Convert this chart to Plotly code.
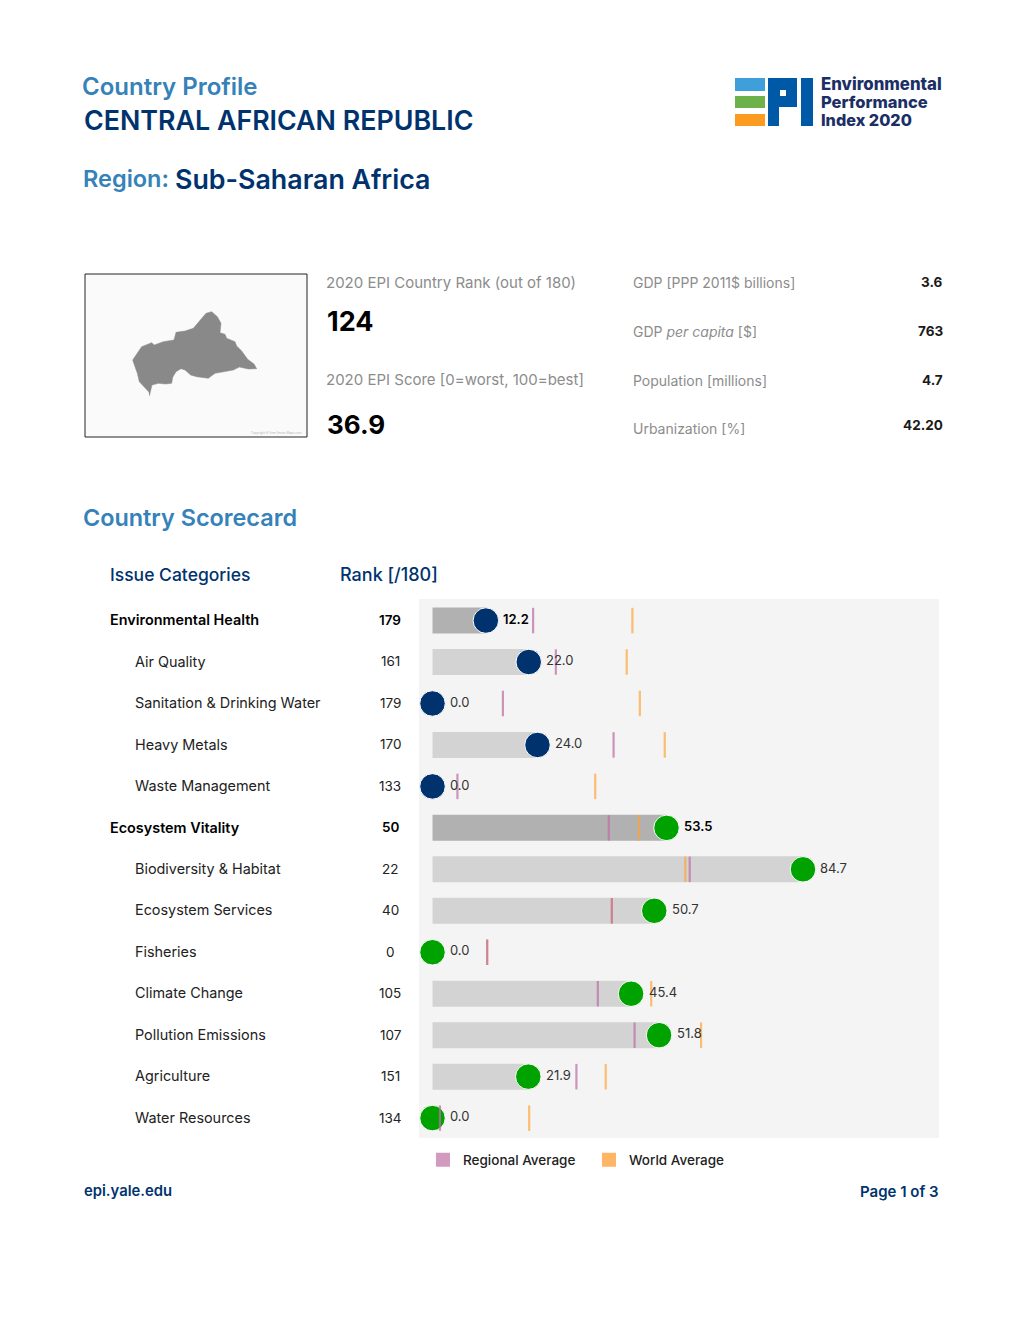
import plotly.graph_objects as go

W, H = 1020, 1320
FONT = "Inter"
NAVY = "#00336e"
BLUE = "#3582b9"
GRAY = "#8c8c8c"

categories = ["Environmental Health", "Air Quality", "Sanitation & Drinking Water", "Heavy Metals",
              "Waste Management", "Ecosystem Vitality", "Biodiversity & Habitat", "Ecosystem Services",
              "Fisheries", "Climate Change", "Pollution Emissions", "Agriculture", "Water Resources"]
ranks = [179, 161, 179, 170, 133, 50, 22, 40, 0, 105, 107, 151, 134]
scores = [12.2, 22.0, 0.0, 24.0, 0.0, 53.5, 84.7, 50.7, 0.0, 45.4, 51.8, 21.9, 0.0]
regional = [23.0, 28.2, 16.1, 41.4, 5.7, 40.3, 58.8, 41.0, 12.5, 37.8, 46.2, 32.9, 1.7]
world = [45.7, 44.4, 47.4, 53.1, 37.2, 47.2, 57.8, 41.0, 12.5, 50.0, 61.4, 39.6, 22.1]
headline_rows = ["Environmental Health", "Ecosystem Vitality"]
health_rows = categories[:5]

map_x = [148, 153, 156, 175, 197, 215, 218, 228, 243, 255, 272, 290, 325, 345, 375, 400, 418, 445, 470, 462,
         443, 425, 410, 405, 380, 375, 360, 363, 352, 335, 318, 300, 280, 255, 228, 222, 190, 163, 155, 125,
         112, 98, 105, 112, 118, 135, 146]
map_y = [318, 300, 285, 280, 282, 280, 262, 245, 236, 240, 255, 260, 265, 250, 245, 240, 231, 237, 236, 222,
         208, 183, 168, 155, 145, 133, 128, 100, 80, 65, 70, 90, 115, 123, 127, 150, 155, 165, 158, 170,
         190, 210, 230, 250, 275, 292, 305]

facts = [("GDP [PPP 2011$ billions]", "3.6", 283, 282),
         ("GDP <i>per capita</i> [$]", "763", 332, 331),
         ("Population [millions]", "4.7", 380.5, 380),
         ("Urbanization [%]", "42.20", 428, 425)]

PANEL_L, PANEL_R, PANEL_T, PANEL_B = 419, 939, 599, 1138
px_per_unit = 4.374
zero_px = 432.5


def txt(s, x, y, size, color, weight=400, anchor="left"):
    return dict(text=s, xref="paper", yref="paper", x=x / W, y=1 - y / H, xanchor=anchor, yanchor="middle",
                showarrow=False, align=anchor, borderpad=0,
                font=dict(family=FONT, size=size, color=color, weight=weight))


def rect(x0, y0, x1, y1, fill):
    return dict(type="rect", xref="paper", yref="paper", x0=x0 / W, x1=x1 / W, y0=1 - y1 / H, y1=1 - y0 / H,
                fillcolor=fill, line=dict(width=0), layer="above")


fig = go.Figure()

fig.add_trace(go.Bar(
    y=categories, x=scores, orientation="h", width=0.627, showlegend=False, hoverinfo="skip",
    marker=dict(color=["#b1b1b1" if c in headline_rows else "#d3d3d3" for c in categories], line=dict(width=0)),
))
fig.add_trace(go.Scatter(
    y=categories, x=scores, mode="markers", showlegend=False, cliponaxis=False,
    marker=dict(size=25.5, color=[NAVY if c in health_rows else "#00a200" for c in categories],
                line=dict(color="#ffffff", width=1)),
))
fig.add_trace(go.Scatter(
    y=categories, x=world, mode="markers", showlegend=False,
    marker=dict(symbol="line-ns", size=18.2, line=dict(color="rgba(255,160,50,0.68)", width=2.2)),
))
fig.add_trace(go.Scatter(
    y=categories, x=regional, mode="markers", showlegend=False,
    marker=dict(symbol="line-ns", size=18.2, line=dict(color="rgba(190,110,165,0.72)", width=2.2)),
))
fig.add_trace(go.Scatter(x=[None], y=[None], mode="markers", name="Regional Average",
                         marker=dict(symbol="square", size=14, color="#d29abf")))
fig.add_trace(go.Scatter(x=[None], y=[None], mode="markers", name="World Average",
                         marker=dict(symbol="square", size=14, color="#ffb566")))
fig.add_trace(go.Scatter(x=map_x, y=map_y, xaxis="x2", yaxis="y2", mode="lines", fill="toself",
                         fillcolor="#898989", line=dict(color="#898989", width=0.5), showlegend=False,
                         hoverinfo="skip"))

ann = [
    txt("Country Profile", 81, 86, 24, BLUE, 600),
    txt("CENTRAL AFRICAN REPUBLIC", 82.5, 120, 26.8, NAVY, 600),
    txt("Region:", 82, 178.5, 23.5, BLUE, 600),
    txt("Sub-Saharan Africa", 174, 178.5, 26.8, NAVY, 600),
    txt("2020 EPI Country Rank (out of 180)", 325, 282.5, 15, GRAY),
    txt("124", 326, 321, 27, "#000000", 700),
    txt("2020 EPI Score [0=worst, 100=best]", 325, 380, 15, GRAY),
    txt("36.9", 326, 424, 26, "#000000", 700),
    txt("Country Scorecard", 82, 518, 23.4, BLUE, 600),
    txt("Issue Categories", 109, 575, 17.5, NAVY, 500),
    txt("Rank [/180]", 339, 575, 18, NAVY, 500),
    txt("epi.yale.edu", 83, 1190.5, 14.8, NAVY, 600),
    txt("Page 1 of 3", 939.5, 1191.5, 15, NAVY, 600, "right"),
    txt("Environmental", 819.5, 84, 16.8, "#1b2f66", 800),
    txt("Performance", 819.5, 102, 16.5, "#1b2f66", 800),
    txt("Index 2020", 819.5, 120, 16.2, "#1b2f66", 800),
    txt("Copyright © Free Vector Maps.com", 303, 432.5, 3, "#b5b5b5", 400, "right"),
]
for label, value, ly, vy in facts:
    ann.append(txt(label, 632, ly, 14, GRAY))
    ann.append(txt(value, 943.8, vy, 13.5, "#1a1a1a", 700, "right"))

ROW = (PANEL_B - PANEL_T) / len(categories)
for i, c in enumerate(categories):
    head = c in headline_rows
    yy = PANEL_T + ROW * (i + 0.5)
    ann.append(txt(c, 109 if head else 133.8, yy, 14.4, "#000000" if head else "#222222", 600 if head else 400))
    ann.append(txt(str(ranks[i]), 390, yy + 0.3, 13.5, "#000000" if head else "#222222", 600 if head else 400, "center"))
    ann.append(dict(text=f"{scores[i]:.1f}", x=scores[i], y=c, xref="x", yref="y", xanchor="left", yanchor="middle",
                    xshift=15.5, yshift=1.8, showarrow=False,
                    font=dict(family=FONT, size=13, color="#000000" if head else "#333333",
                              weight=600 if head else 400)))

shapes = [
    dict(type="rect", xref="x domain", yref="y domain", x0=0, x1=1, y0=0, y1=1, fillcolor="#f4f4f4",
         line=dict(width=0), layer="below"),
    dict(type="rect", xref="x2 domain", yref="y2 domain", x0=0, x1=1, y0=0, y1=1, fillcolor="#fafafa",
         line=dict(width=1, color="#222222"), layer="below"),
    rect(735, 78, 765, 91, "#3f9fdb"),
    rect(735, 96, 765, 108, "#6cb14a"),
    rect(735, 114, 765, 126, "#fb9b1f"),
    rect(768, 78, 797, 107, "#0059a6"),
    rect(768, 107, 779, 126, "#0059a6"),
    rect(780, 90, 786, 96, "#ffffff"),
    rect(801, 78, 813, 126, "#0059a6"),
]

x_lo = (PANEL_L - zero_px) / px_per_unit
x_hi = (PANEL_R - zero_px) / px_per_unit

fig.update_layout(
    width=W, height=H, margin=dict(l=0, r=0, t=0, b=0), autosize=False,
    paper_bgcolor="#ffffff", plot_bgcolor="rgba(0,0,0,0)",
    font=dict(family=FONT),
    barmode="overlay",
    xaxis=dict(domain=[PANEL_L / W, PANEL_R / W], range=[x_lo, x_hi], visible=False, fixedrange=True),
    yaxis=dict(domain=[1 - PANEL_B / H, 1 - PANEL_T / H], type="category", categoryorder="array",
               categoryarray=categories, range=[12.48, -0.52], visible=False, fixedrange=True),
    xaxis2=dict(domain=[85 / W, 307 / W], range=[-45, 621], visible=False, anchor="y2", fixedrange=True),
    yaxis2=dict(domain=[1 - 437 / H, 1 - 274 / H], range=[441, -48], visible=False, anchor="x2", fixedrange=True),
    legend=dict(orientation="h", x=423 / W, y=1 - 1160 / H, xanchor="left", yanchor="middle",
                entrywidth=121, entrywidthmode="pixels", bgcolor="rgba(0,0,0,0)",
                font=dict(family=FONT, size=13.5, color="#222222", weight=500)),
    annotations=ann, shapes=shapes,
)
fig.write_html("out.html", config={"displayModeBar": False}, post_script="document.body.style.margin='0';")
